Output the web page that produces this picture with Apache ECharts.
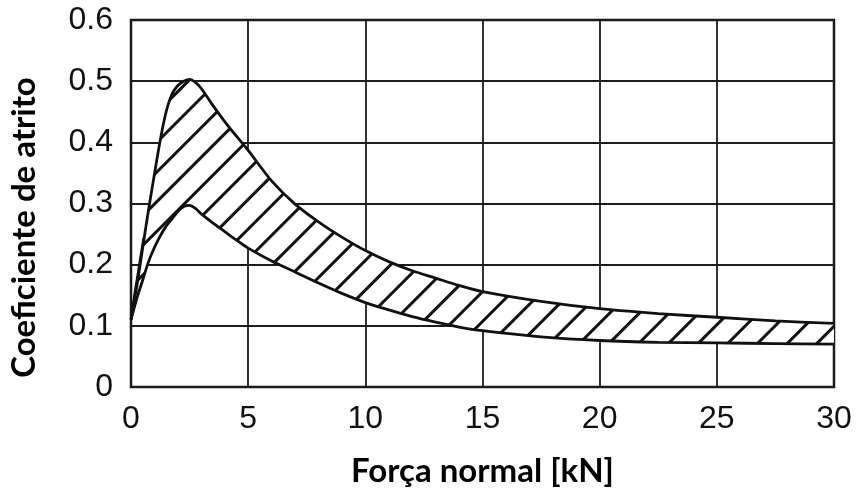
<!DOCTYPE html>
<html>
<head>
<meta charset="utf-8">
<script src="https://cdn.jsdelivr.net/npm/echarts@6/dist/echarts.min.js"></script>
<style>
  html, body { margin: 0; padding: 0; background: #fff; }
  #chart { width: 857px; height: 493px; }
</style>
</head>
<body>
<div id="chart"></div>
<script>
// Normal force [kN] sampled along the band
const forceKN = [0, 0.25, 0.5, 0.75, 1, 1.25, 1.5, 1.75, 2, 2.25, 2.5, 2.75, 3, 3.5, 4, 4.5, 5,
                 6, 7, 8, 9, 10, 11, 12, 13, 14, 15, 17.5, 20, 22.5, 25, 27.5, 30];
// Upper limit of the friction coefficient
const upperMu = [0.11, 0.165, 0.228, 0.29, 0.348, 0.404, 0.45, 0.479, 0.493, 0.5, 0.503, 0.498, 0.488,
                 0.46, 0.434, 0.41, 0.387, 0.337, 0.299, 0.27, 0.245, 0.223, 0.205, 0.19, 0.178,
                 0.166, 0.156, 0.14, 0.128, 0.12, 0.114, 0.108, 0.104];
// Lower limit of the friction coefficient
const lowerMu = [0.11, 0.145, 0.175, 0.205, 0.228, 0.247, 0.263, 0.275, 0.287, 0.295, 0.297, 0.292, 0.283,
                 0.268, 0.254, 0.24, 0.227, 0.206, 0.188, 0.17, 0.153, 0.138, 0.126, 0.115, 0.106,
                 0.098, 0.092, 0.082, 0.076, 0.073, 0.072, 0.071, 0.07];
// Short inner branch starting at the origin
const innerForce = [0, 0.12, 0.25, 0.4, 0.54];
const innerMu = [0.11, 0.145, 0.176, 0.212, 0.244];

const xTicks = ['0', '5', '10', '15', '20', '25', '30'];
const yTicks = ['0', '0.1', '0.2', '0.3', '0.4', '0.5', '0.6'];

// Rows are [mu, force] so that the stack runs on the coefficient dimension
const lowerRows = forceKN.map((x, i) => [lowerMu[i], x]);
const bandRows = forceKN.map((x, i) => [+(upperMu[i] - lowerMu[i]).toFixed(4), x]);
const innerRows = innerForce.map((x, i) => [innerMu[i], x]);
const rowEncode = { x: 1, y: 0 };

const chart = echarts.init(document.getElementById('chart'), null, { renderer: 'canvas' });

const ink = '#111';
const tickFont = { fontFamily: 'Liberation Sans', fontSize: 32, color: ink };
const nameFont = { fontFamily: 'Lato', fontWeight: 'bold', fontSize: 33, color: '#000' };

chart.setOption({
  animation: false,
  backgroundColor: '#fff',
  grid: {
    left: 128, right: 23, top: 20, bottom: 105,
    show: true, borderColor: ink, borderWidth: 2.5, backgroundColor: 'transparent'
  },
  xAxis: {
    type: 'value', min: 0, max: 30, interval: 5,
    name: 'Força normal [kN]',
    nameLocation: 'middle', nameGap: 68,
    nameTextStyle: nameFont,
    axisLine: { show: false },
    axisTick: { show: false },
    axisLabel: Object.assign({ margin: 16, formatter: v => xTicks[Math.round(v / 5)] }, tickFont),
    splitLine: { show: true, lineStyle: { color: '#1c1c1c', width: 1.8 } }
  },
  yAxis: {
    type: 'value', min: 0, max: 0.6, interval: 0.1,
    name: 'Coeficiente de atrito',
    nameLocation: 'middle', nameGap: 90,
    nameTextStyle: Object.assign({ padding: [0, 48, 0, 0] }, nameFont),
    axisLine: { show: false },
    axisTick: { show: false },
    axisLabel: Object.assign({ margin: 18, formatter: v => yTicks[Math.round(v * 10)] }, tickFont),
    splitLine: { show: true, lineStyle: { color: '#1c1c1c', width: 1.8 } }
  },
  series: [
    {
      name: 'lower', type: 'line', stack: 'band', data: lowerRows, encode: rowEncode,
      showSymbol: false, smooth: 0.3, z: 4,
      lineStyle: { color: ink, width: 2.8 }
    },
    {
      name: 'band', type: 'line', stack: 'band', data: bandRows, encode: rowEncode,
      showSymbol: false, smooth: 0.3, z: 3,
      lineStyle: { color: ink, width: 2.8 },
      itemStyle: {
        color: ink,
        decal: {
          symbol: 'rect', symbolSize: 1, color: '#111', backgroundColor: null,
          dashArrayX: [1, 0], dashArrayY: [2.5, 18], rotation: -Math.PI / 4
        }
      },
      areaStyle: { color: '#fff', opacity: 1 }
    },
    {
      name: 'inner', type: 'line', data: innerRows, encode: rowEncode,
      showSymbol: false, smooth: 0.3, z: 4,
      lineStyle: { color: ink, width: 2.2 }
    }
  ]
});
</script>
</body>
</html>
